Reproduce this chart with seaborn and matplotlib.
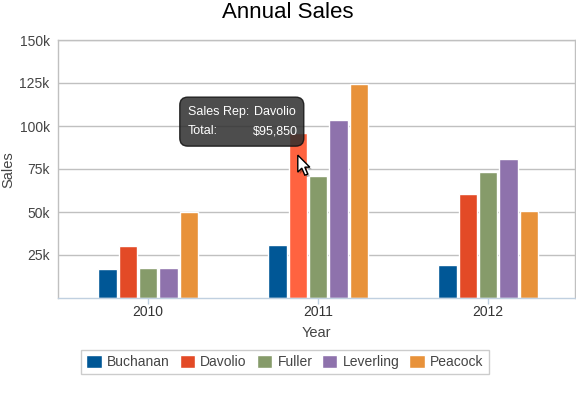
import matplotlib
matplotlib.use("Agg")
import matplotlib.pyplot as plt
import matplotlib.patches as mpatches
import seaborn as sns
import pandas as pd

# chart data
years = ["2010", "2011", "2012"]
reps = ["Buchanan", "Davolio", "Fuller", "Leverling", "Peacock"]
buchanan = [17000, 31000, 19300]
davolio = [30500, 95850, 60200]
fuller = [17500, 70700, 73000]
leverling = [17500, 103400, 80600]
peacock = [49800, 124600, 50800]
y_ticks = [25000, 50000, 75000, 100000, 125000, 150000]
y_tick_labels = ["25k", "50k", "75k", "100k", "125k", "150k"]

colors = ["#005796", "#E34A26", "#869B6A", "#8E72AC", "#E8923A"]
hover_color = "#FF6340"

rows = []
for rep, vals in zip(reps, [buchanan, davolio, fuller, leverling, peacock]):
    for yr, v in zip(years, vals):
        rows.append({"Year": yr, "Rep": rep, "Sales": v})
df = pd.DataFrame(rows)

sns.set_theme(style="white")
plt.rcParams["font.family"] = ["Liberation Sans", "DejaVu Sans"]

W, H = 576, 404
fig = plt.figure(figsize=(W / 100, H / 100), dpi=100)
ax = fig.add_axes([58 / W, (H - 298) / H, (575 - 58) / W, (298 - 40) / H])

sns.barplot(data=df, x="Year", y="Sales", hue="Rep", order=years, hue_order=reps,
            palette=colors, width=0.6, gap=0.1, ax=ax, legend=True, saturation=1)

# hovered bar (Davolio 2011)
hover_bar = ax.containers[1][1]
hover_bar.set_facecolor(hover_color)

ax.set_ylim(0, 150000)
ax.set_xlim(-0.53, 2.51)
ax.set_yticks(y_ticks)
ax.set_yticklabels(y_tick_labels)
ax.yaxis.grid(True, color="#C0C0C0", linewidth=1)
ax.set_axisbelow(True)
ax.tick_params(axis="y", length=0, pad=6, labelsize=10, labelcolor="#444444")
ax.tick_params(axis="x", length=4, width=1, color="#C0D0E0", pad=1,
               labelsize=10, labelcolor="#333333", direction="out", bottom=True)
for side in ["left", "top", "right"]:
    ax.spines[side].set_color("#C0C0C0")
    ax.spines[side].set_linewidth(1)
ax.spines["bottom"].set_color("#C0D0E0")
ax.spines["bottom"].set_linewidth(1)

ax.set_xlabel("Year", fontsize=10.5, color="#444444", labelpad=5)
ax.set_ylabel("")
fig.text(8 / W, 1 - 170 / H, "Sales", rotation=90, ha="center", va="center",
         fontsize=10.5, color="#444444")
fig.text(0.5, 1 - 12 / H, "Annual Sales", ha="center", va="center",
         fontsize=16, color="black")

# legend
handles, labels = ax.get_legend_handles_labels()
ax.get_legend().remove()
leg = fig.legend(handles, labels, loc="center", ncol=5,
                 bbox_to_anchor=(285 / W, 1 - 362 / H), frameon=True,
                 fancybox=False, fontsize=10, handlelength=1.1, handleheight=1.1,
                 handletextpad=0.4, columnspacing=0.7, borderpad=0.35,
                 labelcolor="#444444")
leg.get_frame().set_edgecolor("#C0C0C0")
leg.get_frame().set_linewidth(1)

# tooltip anchored to the hovered bar (pixel coords)
fig.canvas.draw()
bx = hover_bar.get_x() + hover_bar.get_width() / 2
px, py = ax.transData.transform((bx, hover_bar.get_height()))
box = mpatches.FancyBboxPatch((px - 118, py - 13), 124, 49,
                              boxstyle="round,pad=0,rounding_size=8",
                              transform=None, facecolor="#2E2E2E", alpha=0.85,
                              edgecolor="#111111", linewidth=1, zorder=10)
fig.patches.append(box)
tkw = dict(transform=None, color="white", fontsize=9, va="center", zorder=11)
fig.text(px - 110, py + 21, "Sales Rep:", ha="left", **tkw)
fig.text(px - 44, py + 21, "Davolio", ha="left", **tkw)
fig.text(px - 110, py + 2, "Total:", ha="left", **tkw)
fig.text(px, py + 2, "$95,850", ha="right", **tkw)

# mouse cursor
cx, cy = px, py - 22
shape = [(0, 0), (0, -17), (4, -13), (7, -20), (10, -19), (7, -12), (12, -12)]
shadow = mpatches.Polygon([(cx + x + 2, cy + y - 2) for x, y in shape], closed=True,
                          transform=None, facecolor="black", alpha=0.3,
                          edgecolor="none", zorder=12)
cursor = mpatches.Polygon([(cx + x, cy + y) for x, y in shape], closed=True,
                          transform=None, facecolor="white", edgecolor="black",
                          linewidth=1, zorder=13)
fig.patches.extend([shadow, cursor])

fig.savefig("out.png", dpi=100)
